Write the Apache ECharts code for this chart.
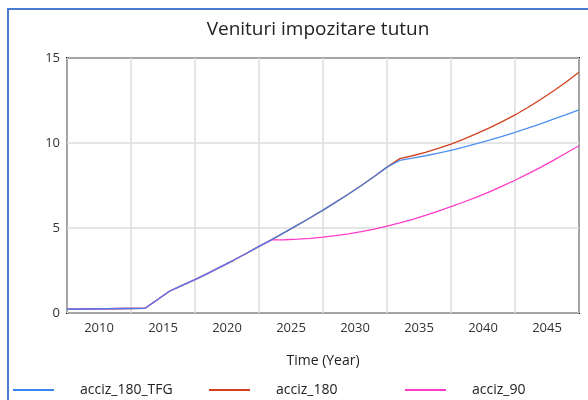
<!DOCTYPE html>
<html>
<head>
<meta charset="utf-8">
<script src="https://cdn.jsdelivr.net/npm/echarts@6/dist/echarts.min.js"></script>
<style>html,body{margin:0;padding:0;background:#fff}#c{width:588px;height:400px}</style>
</head>
<body>
<div id="c"></div>
<script>
const years = [2007.5, 2013.6, 2014.5, 2015.5, 2016.5, 2017.5, 2018.5, 2019.5, 2020.5, 2021.5, 2022.5,
  2023.5, 2024.5, 2025.5, 2026.5, 2027.5, 2028.5, 2029.5, 2030.5, 2031.5, 2032.5, 2033.5, 2034.5,
  2035.5, 2036.5, 2037.5, 2038.5, 2039.5, 2040.5, 2041.5, 2042.5, 2043.5, 2044.5, 2045.5, 2046.5, 2047.5];
const acciz_180_TFG = [0.22, 0.28, 0.75, 1.28, 1.62, 1.96, 2.33, 2.71, 3.10, 3.50, 3.92,
  4.32, 4.74, 5.17, 5.60, 6.05, 6.52, 7.00, 7.50, 8.03, 8.58, 8.98, 9.11,
  9.25, 9.40, 9.57, 9.76, 9.96, 10.17, 10.39, 10.62, 10.87, 11.13, 11.40, 11.67, 11.95];
const acciz_180 = [0.22, 0.28, 0.75, 1.28, 1.62, 1.96, 2.33, 2.71, 3.10, 3.50, 3.92,
  4.32, 4.74, 5.17, 5.60, 6.05, 6.52, 7.00, 7.50, 8.03, 8.58, 9.08, 9.25,
  9.45, 9.68, 9.94, 10.23, 10.55, 10.89, 11.26, 11.65, 12.09, 12.56, 13.06, 13.59, 14.16];
const acciz_90 = [0.22, 0.28, 0.75, 1.28, 1.62, 1.96, 2.33, 2.71, 3.10, 3.50, 3.92,
  4.30, 4.31, 4.34, 4.39, 4.46, 4.55, 4.66, 4.79, 4.94, 5.11, 5.30, 5.51,
  5.74, 5.99, 6.26, 6.53, 6.82, 7.13, 7.46, 7.81, 8.18, 8.57, 8.98, 9.41, 9.84];
const xLabels = [2010, 2015, 2020, 2025, 2030, 2035, 2040, 2045];
const yTicks = [0, 5, 10, 15];
const seriesNames = ['acciz_180_TFG', 'acciz_180', 'acciz_90'];

const pair = arr => years.map((y, i) => [y, arr[i]]);
const FONT = '"Open Sans", "Noto Sans", sans-serif';
const colors = { blue: '#3a86ee', red: '#d2401e', pink: '#ff3cc8' };
const legendColors = [colors.blue, colors.red, colors.pink];
const legendLefts = [13, 209, 405];

const chart = echarts.init(document.getElementById('c'), null, { renderer: 'canvas' });
chart.setOption({
  animation: false,
  backgroundColor: '#fff',
  title: {
    text: 'Venituri impozitare tutun',
    left: 318, top: 20, textAlign: 'center', padding: 0,
    textStyle: { fontFamily: FONT, fontSize: 19, fontWeight: 'normal', color: '#222' }
  },
  graphic: [
    { type: 'line', shape: { x1: 8, y1: 9, x2: 588, y2: 9 }, style: { stroke: '#4a7bd2', lineWidth: 2 }, silent: true },
    { type: 'line', shape: { x1: 8, y1: 8, x2: 8, y2: 400 }, style: { stroke: '#4a7bd2', lineWidth: 2 }, silent: true }
  ],
  legend: seriesNames.map((n, i) => ({
    data: [{ name: n, itemStyle: { color: legendColors[i], opacity: 1 } }],
    left: legendLefts[i], top: 383, padding: 0,
    icon: 'rect', itemWidth: 41, itemHeight: 2, itemGap: 0,
    textStyle: { fontFamily: FONT, fontSize: 14, color: '#222', padding: [0, 0, 0, 21] }
  })),
  grid: { left: 67, right: 9, top: 58, bottom: 87, show: true, borderColor: '#000', borderWidth: 2, backgroundColor: 'transparent' },
  xAxis: {
    type: 'value', min: 2007.5, max: 2047.5, interval: 5,
    name: 'Time (Year)', nameLocation: 'middle', nameGap: 41,
    nameTextStyle: { fontFamily: FONT, fontSize: 14, color: '#222' },
    axisLine: { show: false }, axisTick: { show: false },
    axisLabel: { customValues: xLabels, formatter: v => String(v), fontFamily: FONT, fontSize: 13, color: '#333', margin: 9 },
    splitLine: { show: true, lineStyle: { color: '#dcdcdc', width: 1.5 } }
  },
  yAxis: {
    type: 'value', min: yTicks[0], max: yTicks[yTicks.length - 1], interval: 5,
    axisLine: { show: false }, axisTick: { show: false },
    axisLabel: { fontFamily: FONT, fontSize: 13, color: '#333', margin: 7 },
    splitLine: { show: true, lineStyle: { color: '#dcdcdc', width: 1.5 } }
  },
  series: [
    { name: seriesNames[1], type: 'line', data: pair(acciz_180), showSymbol: false, symbol: 'none', z: 2,
      lineStyle: { color: colors.red, width: 1.3 }, itemStyle: { color: colors.red } },
    { name: seriesNames[2], type: 'line', data: pair(acciz_90), showSymbol: false, symbol: 'none', z: 3,
      lineStyle: { color: colors.pink, width: 1.3 }, itemStyle: { color: colors.pink } },
    { name: seriesNames[0], type: 'line', data: pair(acciz_180_TFG), showSymbol: false, symbol: 'none', z: 4,
      lineStyle: { color: colors.blue, width: 1.3, opacity: 0.9 }, itemStyle: { color: colors.blue } }
  ]
});
</script>
</body>
</html>
